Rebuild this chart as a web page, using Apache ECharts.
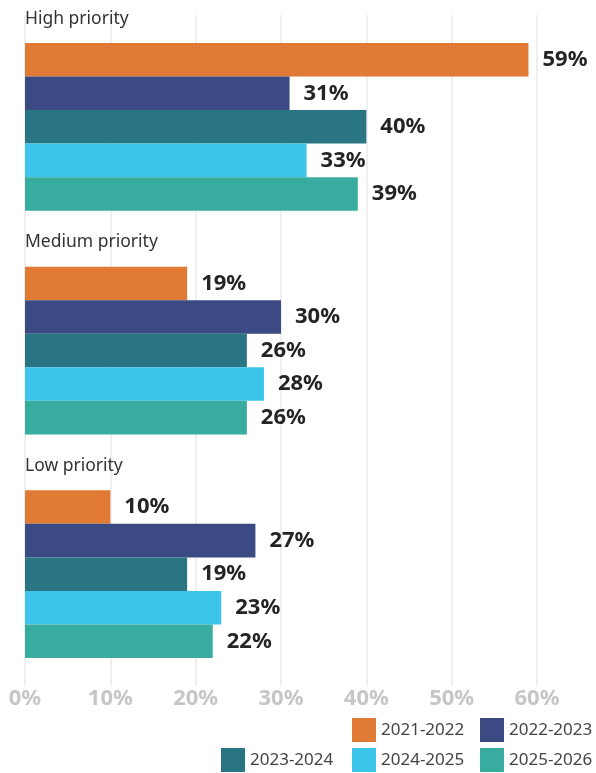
<!DOCTYPE html>
<html>
<head>
<meta charset="utf-8">
<script src="https://cdn.jsdelivr.net/npm/echarts@6/dist/echarts.min.js"></script>
<style>
  html, body { margin: 0; padding: 0; background: #fff; }
  #chart { width: 596px; height: 773px; }
</style>
</head>
<body>
<div id="chart"></div>
<script>
// Priority groups (top to bottom)
const categories = ['High priority', 'Medium priority', 'Low priority'];

// Share of respondents per fiscal year, in percent
const seriesNames = ['2021-2022', '2022-2023', '2023-2024', '2024-2025', '2025-2026'];
const values2021 = [59, 19, 10];
const values2022 = [31, 30, 27];
const values2023 = [40, 26, 19];
const values2024 = [33, 28, 23];
const values2025 = [39, 26, 22];

const xTicks = [0, 10, 20, 30, 40, 50, 60];

const colors = ['#E07A35', '#3C4A84', '#297584', '#3CC5E9', '#38AC9F'];
const FONT = '"Noto Sans", "Open Sans", sans-serif';

const seriesValues = [values2021, values2022, values2023, values2024, values2025];

const chart = echarts.init(document.getElementById('chart'), null, { renderer: 'canvas' });

// Legend laid out as a right-aligned grid: one vertical legend per column
const legendText = { color: '#444', fontSize: 17, fontFamily: FONT };
function legendColumn(names, left, top) {
  return {
    data: names,
    orient: 'vertical',
    left: left,
    top: top,
    itemWidth: 24,
    itemHeight: 24,
    itemGap: 6,
    icon: 'rect',
    selectedMode: false,
    textStyle: legendText,
    padding: 0
  };
}

chart.setOption({
  animation: false,
  color: colors,
  grid: { left: 25, right: 59, top: 15, bottom: 87, containLabel: false },
  legend: [
    legendColumn(['2023-2024'], 221, 748),
    legendColumn(['2021-2022', '2024-2025'], 352, 718),
    legendColumn(['2022-2023', '2025-2026'], 480, 718)
  ],
  xAxis: {
    type: 'value',
    min: xTicks[0],
    max: xTicks[xTicks.length - 1],
    interval: 10,
    axisLine: { show: false },
    axisTick: { show: false },
    splitLine: { lineStyle: { color: '#efefef', width: 2 } },
    axisLabel: {
      formatter: '{value}%',
      color: '#c6c6c8',
      fontSize: 22,
      fontWeight: 'bold',
      fontFamily: FONT,
      margin: 2
    }
  },
  yAxis: {
    type: 'category',
    data: categories,
    inverse: true,
    axisLine: { show: false },
    axisTick: { show: false },
    splitLine: { show: false },
    axisLabel: {
      inside: true,
      margin: 0,
      formatter: '{t|{value}}',
      rich: {
        // lift the group title above its bars
        t: {
          color: '#333',
          fontSize: 17.5,
          fontFamily: FONT,
          padding: [0, 0, 216, 0]
        }
      }
    },
    z: 5
  },
  series: seriesNames.map((name, i) => ({
    name: name,
    type: 'bar',
    data: seriesValues[i],
    barGap: 0,
    barCategoryGap: '25%',
    label: {
      show: true,
      position: 'right',
      distance: 14,
      formatter: '{c}%',
      color: '#252423',
      fontSize: 22,
      fontWeight: 'bold',
      fontFamily: FONT
    }
  }))
});
</script>
</body>
</html>
